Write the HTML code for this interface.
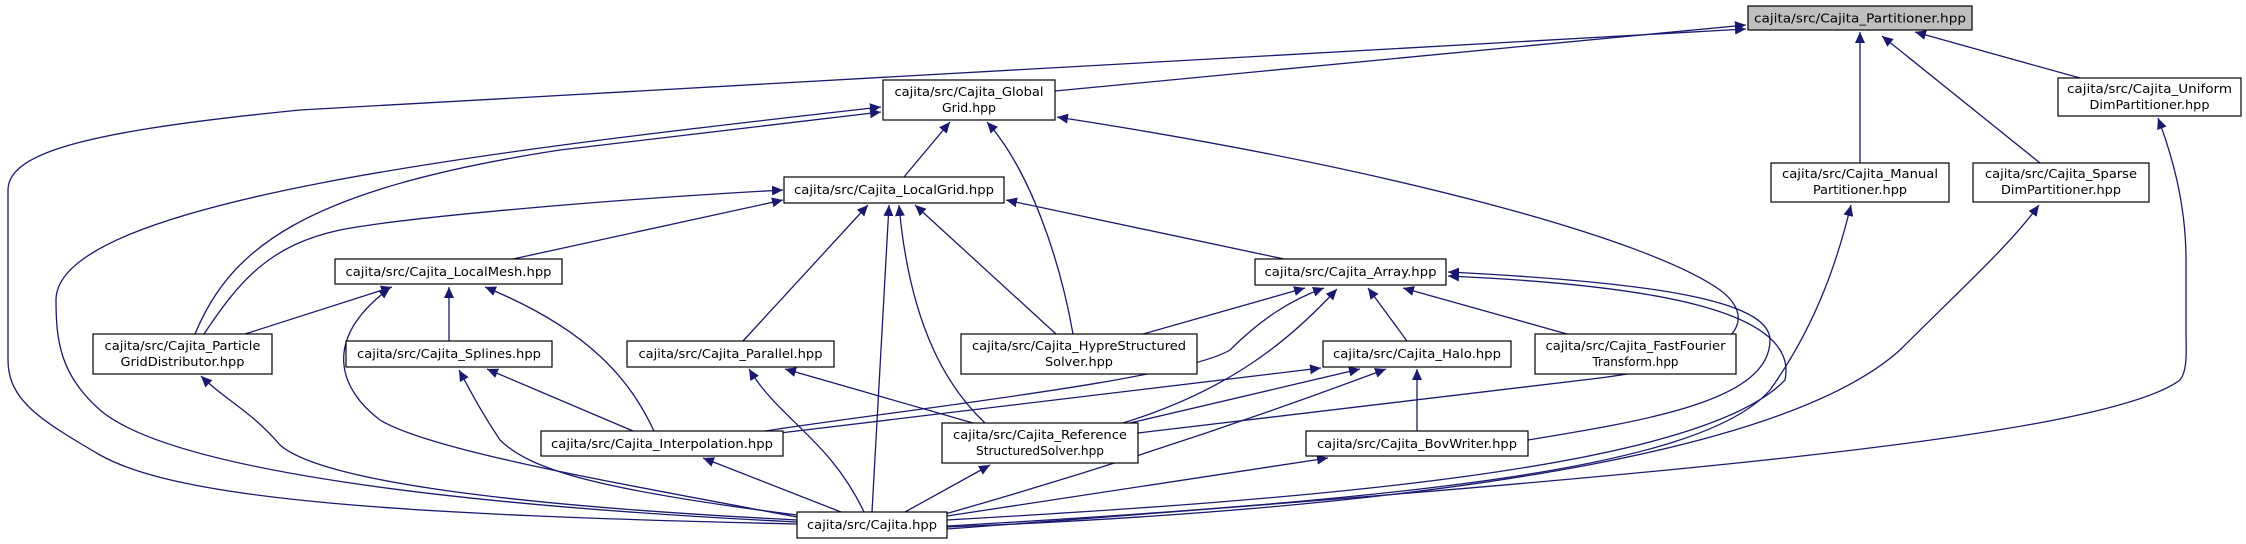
<!DOCTYPE html>
<html><head><meta charset="utf-8"><style>
html,body{margin:0;padding:0;background:#fff;}
svg{display:block;}
text{font-family:"DejaVu Sans","Liberation Sans",sans-serif;font-size:12px;fill:#000;}
.n{fill:#fff;stroke:#000;stroke-width:1.2;}
.e{fill:none;stroke:#191970;stroke-width:1.3;}
</style></head><body>
<svg width="2246" height="544" viewBox="0 0 2246 544" xmlns="http://www.w3.org/2000/svg">
<defs><marker id="a" markerUnits="userSpaceOnUse" markerWidth="12" markerHeight="10" refX="11" refY="5" orient="auto"><path d="M0,0 L11,5 L0,10 Z" fill="#191970"/></marker></defs>
<g class="e" marker-end="url(#a)">
<path d="M1055,91 L1746,25"/>
<path d="M797,524 C 400,515 180,500 100,455 C 40,420 8,400 8,360 L 8,190 C 8,150 100,130 300,110 L 1746,29"/>
<path d="M797,522 C 450,505 170,470 100,410 C 60,375 56,340 56,300 C 56,200 500,150 881,107"/>
<path d="M195,334 C 230,250 300,190 560,150 L 881,112"/>
<path d="M204,334 C 240,280 270,245 340,230 C 400,218 600,200 783,190"/>
<path d="M513,259 L783,200"/>
<path d="M904,177 L950,122"/>
<path d="M1073,334 C 1060,260 1030,170 987,122"/>
<path d="M1138,433 L1600,378 C 1740,360 1760,320 1720,290 C 1650,240 1400,170 1057,117"/>
<path d="M1528,440 C 1650,420 1770,400 1770,340 C 1770,300 1650,282 1448,272"/>
<path d="M947,520 C 1300,500 1700,470 1785,380 C 1800,310 1650,285 1448,276"/>
<path d="M947,526 C 1400,500 1700,470 1770,390 C 1820,320 1840,250 1851,205"/>
<path d="M947,527 C 1500,505 1800,440 1900,350 C 1960,290 2010,245 2039,205"/>
<path d="M947,529 C 1600,480 2100,440 2180,380 C 2188,370 2186,350 2186,330 L2186,260 C 2186,200 2170,150 2158,118"/>
<path d="M1860,163 L1860,32"/>
<path d="M2040,163 L1882,36"/>
<path d="M2080,78 L1915,32"/>
<path d="M743,341 L868,205"/>
<path d="M872,512 L889,205"/>
<path d="M985,423 C 950,390 910,330 899,205"/>
<path d="M1056,334 L915,205"/>
<path d="M1284,259 L1006,200"/>
<path d="M245,334 L392,287"/>
<path d="M449,341 L449,287"/>
<path d="M654,431 C 630,380 590,330 485,287"/>
<path d="M797,517 C 600,480 430,450 380,420 C 340,390 320,340 390,288"/>
<path d="M633,431 L487,369"/>
<path d="M797,515 C 600,490 530,470 500,440 C 480,410 470,390 459,370"/>
<path d="M797,520 C 500,505 320,480 280,445 C 250,410 225,400 201,376"/>
<path d="M864,512 C 830,440 780,420 749,369"/>
<path d="M973,423 L785,369"/>
<path d="M841,512 L703,458"/>
<path d="M905,512 L990,465"/>
<path d="M1143,334 L1305,288"/>
<path d="M765,431 C 900,410 1180,380 1230,350 C 1260,320 1290,300 1324,288"/>
<path d="M780,433 L1321,368"/>
<path d="M1123,423 C 1230,390 1290,340 1337,289"/>
<path d="M1130,423 L1360,369"/>
<path d="M1407,341 L1368,288"/>
<path d="M1567,334 L1403,288"/>
<path d="M945,514 C 1100,470 1250,420 1386,369"/>
<path d="M1417,431 L1417,369"/>
<path d="M947,516 L1328,458"/>
</g>
<g text-anchor="middle">
<rect x="1748" y="6" width="224" height="24" style="fill:#bfbfbf;stroke:#000;stroke-width:1.2"/>
<text x="1860" y="22.5" textLength="212" lengthAdjust="spacingAndGlyphs">cajita/src/Cajita_Partitioner.hpp</text>

<rect class="n" x="2058" y="78" width="183" height="38"/>
<text x="2149.5" y="93" textLength="165" lengthAdjust="spacingAndGlyphs">cajita/src/Cajita_Uniform</text>
<text x="2149.5" y="109" textLength="120" lengthAdjust="spacingAndGlyphs">DimPartitioner.hpp</text>

<rect class="n" x="1771" y="163" width="178" height="39"/>
<text x="1860" y="178" textLength="156" lengthAdjust="spacingAndGlyphs">cajita/src/Cajita_Manual</text>
<text x="1860" y="194" textLength="94" lengthAdjust="spacingAndGlyphs">Partitioner.hpp</text>

<rect class="n" x="1973" y="163" width="176" height="39"/>
<text x="2061" y="178" textLength="152" lengthAdjust="spacingAndGlyphs">cajita/src/Cajita_Sparse</text>
<text x="2061" y="194" textLength="120" lengthAdjust="spacingAndGlyphs">DimPartitioner.hpp</text>

<rect class="n" x="883" y="80" width="172" height="40"/>
<text x="969" y="96" textLength="149" lengthAdjust="spacingAndGlyphs">cajita/src/Cajita_Global</text>
<text x="969" y="112" textLength="54" lengthAdjust="spacingAndGlyphs">Grid.hpp</text>

<rect class="n" x="784" y="177" width="220" height="26"/>
<text x="894" y="194" textLength="200" lengthAdjust="spacingAndGlyphs">cajita/src/Cajita_LocalGrid.hpp</text>

<rect class="n" x="335" y="259" width="227" height="25"/>
<text x="448.5" y="276" textLength="206" lengthAdjust="spacingAndGlyphs">cajita/src/Cajita_LocalMesh.hpp</text>

<rect class="n" x="1255" y="259" width="191" height="26"/>
<text x="1350.5" y="276" textLength="172" lengthAdjust="spacingAndGlyphs">cajita/src/Cajita_Array.hpp</text>

<rect class="n" x="93" y="334" width="179" height="40"/>
<text x="182.5" y="350" textLength="156" lengthAdjust="spacingAndGlyphs">cajita/src/Cajita_Particle</text>
<text x="182.5" y="366" textLength="124" lengthAdjust="spacingAndGlyphs">GridDistributor.hpp</text>

<rect class="n" x="346" y="341" width="206" height="26"/>
<text x="449" y="358" textLength="184" lengthAdjust="spacingAndGlyphs">cajita/src/Cajita_Splines.hpp</text>

<rect class="n" x="627" y="341" width="207" height="26"/>
<text x="730.5" y="358" textLength="184" lengthAdjust="spacingAndGlyphs">cajita/src/Cajita_Parallel.hpp</text>

<rect class="n" x="961" y="334" width="236" height="40"/>
<text x="1079" y="350" textLength="214" lengthAdjust="spacingAndGlyphs">cajita/src/Cajita_HypreStructured</text>
<text x="1079" y="366" textLength="68" lengthAdjust="spacingAndGlyphs">Solver.hpp</text>

<rect class="n" x="1323" y="341" width="188" height="26"/>
<text x="1417" y="358" textLength="168" lengthAdjust="spacingAndGlyphs">cajita/src/Cajita_Halo.hpp</text>

<rect class="n" x="1535" y="334" width="201" height="40"/>
<text x="1635.5" y="350" textLength="180" lengthAdjust="spacingAndGlyphs">cajita/src/Cajita_FastFourier</text>
<text x="1635.5" y="366" textLength="86" lengthAdjust="spacingAndGlyphs">Transform.hpp</text>

<rect class="n" x="541" y="431" width="242" height="25"/>
<text x="662" y="448" textLength="222" lengthAdjust="spacingAndGlyphs">cajita/src/Cajita_Interpolation.hpp</text>

<rect class="n" x="942" y="423" width="196" height="40"/>
<text x="1040" y="439" textLength="174" lengthAdjust="spacingAndGlyphs">cajita/src/Cajita_Reference</text>
<text x="1040" y="455" textLength="128" lengthAdjust="spacingAndGlyphs">StructuredSolver.hpp</text>

<rect class="n" x="1306" y="431" width="222" height="25"/>
<text x="1417" y="448" textLength="200" lengthAdjust="spacingAndGlyphs">cajita/src/Cajita_BovWriter.hpp</text>

<rect class="n" x="797" y="512" width="150" height="26"/>
<text x="872" y="529" textLength="130" lengthAdjust="spacingAndGlyphs">cajita/src/Cajita.hpp</text>
</g>
</svg>
</body></html>
